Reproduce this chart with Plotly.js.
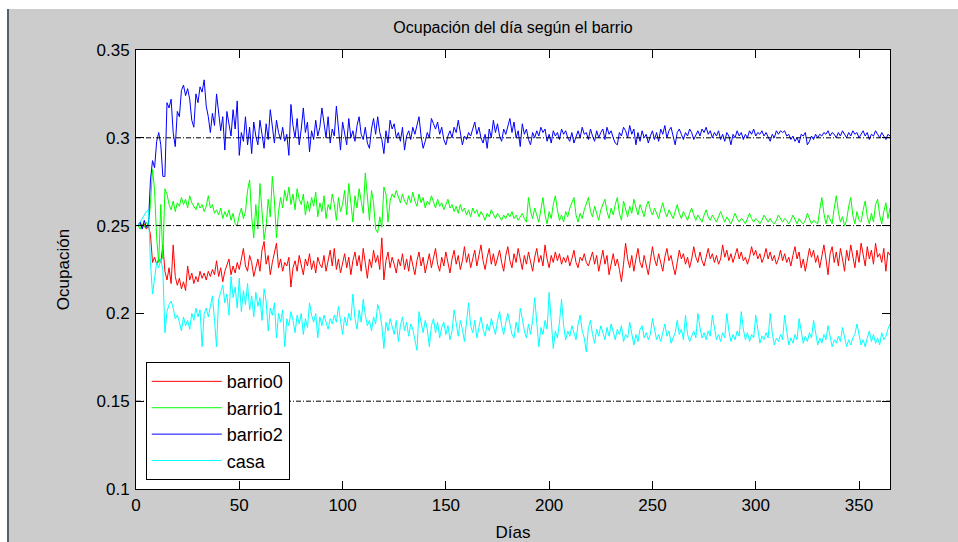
<!DOCTYPE html>
<html>
<head>
<meta charset="utf-8">
<script src="https://cdn.plot.ly/plotly-3.0.1.min.js"></script>
<style>
html,body{margin:0;padding:0;background:#ffffff;width:958px;height:542px;overflow:hidden;}
#frame{position:absolute;left:7px;top:9px;width:951px;height:533px;border-left:2px solid #56616e;box-sizing:border-box;background:#cccccc;}
#plot{position:absolute;left:0;top:0;width:949px;height:533px;}
</style>
</head>
<body>
<div id="frame"><div id="plot"></div></div>
<script>
// ---- data ----
const seriesNames = ['barrio0', 'barrio1', 'barrio2', 'casa'];
const xTickVals = [0, 50, 100, 150, 200, 250, 300, 350];
const yTickVals = [0.1, 0.15, 0.2, 0.25, 0.3, 0.35];
const yTickText = ['0.1', '0.15', '0.2', '0.25', '0.3', '0.35'];
const refLevels = [0.3, 0.25, 0.15];

const barrio0 = [
0.250,0.252,0.249,0.251,0.248,0.250,0.245,0.229,0.232,0.228,
0.231,0.229,0.239,0.224,0.219,0.226,0.217,0.239,0.221,0.216,
0.220,0.214,0.218,0.213,0.227,0.219,0.223,0.217,0.221,0.218,
0.224,0.220,0.223,0.219,0.224,0.221,0.225,0.222,0.230,0.221,
0.226,0.218,0.224,0.228,0.231,0.222,0.227,0.223,0.229,0.225,
0.232,0.237,0.227,0.224,0.233,0.229,0.221,0.226,0.231,0.224,
0.236,0.241,0.228,0.233,0.222,0.229,0.234,0.240,0.226,0.231,
0.224,0.229,0.227,0.232,0.215,0.226,0.230,0.224,0.233,0.228,
0.222,0.231,0.227,0.234,0.225,0.230,0.223,0.232,0.228,0.226,
0.233,0.224,0.230,0.236,0.227,0.237,0.225,0.231,0.223,0.229,
0.234,0.226,0.232,0.222,0.230,0.235,0.227,0.233,0.224,0.237,
0.228,0.220,0.231,0.226,0.236,0.229,0.233,0.225,0.243,0.219,
0.230,0.235,0.226,0.232,0.228,0.223,0.231,0.227,0.234,0.225,
0.231,0.224,0.233,0.228,0.222,0.230,0.235,0.227,0.232,0.223,
0.229,0.234,0.226,0.231,0.237,0.228,0.224,0.232,0.227,0.235,
0.229,0.223,0.231,0.236,0.228,0.233,0.225,0.230,0.238,0.229,
0.234,0.226,0.231,0.236,0.227,0.233,0.239,0.230,0.225,0.232,
0.237,0.228,0.234,0.227,0.231,0.236,0.229,0.224,0.233,0.238,
0.230,0.226,0.234,0.229,0.237,0.231,0.225,0.233,0.228,0.235,
0.230,0.224,0.232,0.237,0.229,0.233,0.227,0.239,0.231,0.226,
0.233,0.229,0.235,0.230,0.234,0.228,0.232,0.229,0.233,0.227,
0.231,0.236,0.229,0.226,0.232,0.230,0.234,0.229,0.227,0.231,
0.235,0.228,0.233,0.224,0.230,0.236,0.228,0.233,0.222,0.229,
0.234,0.227,0.231,0.225,0.218,0.228,0.240,0.231,0.226,0.233,
0.224,0.231,0.237,0.229,0.226,0.233,0.228,0.222,0.230,0.238,
0.231,0.227,0.234,0.229,0.224,0.232,0.237,0.230,0.233,0.227,
0.222,0.229,0.236,0.231,0.234,0.228,0.232,0.226,0.231,0.238,
0.232,0.229,0.235,0.230,0.227,0.232,0.237,0.231,0.234,0.229,
0.233,0.228,0.231,0.239,0.232,0.236,0.230,0.234,0.229,0.233,
0.237,0.231,0.235,0.230,0.232,0.228,0.232,0.238,0.233,0.236,
0.231,0.234,0.229,0.232,0.237,0.231,0.235,0.230,0.233,0.228,
0.231,0.236,0.230,0.234,0.229,0.232,0.227,0.233,0.238,0.231,
0.235,0.226,0.231,0.224,0.230,0.237,0.232,0.236,0.229,0.233,
0.226,0.232,0.239,0.231,0.222,0.234,0.238,0.229,0.235,0.227,
0.237,0.231,0.224,0.236,0.230,0.239,0.232,0.226,0.236,0.229,
0.240,0.233,0.227,0.238,0.231,0.236,0.228,0.240,0.232,0.234,
0.229,0.237,0.224,0.235,0.233
];

const barrio1 = [
0.250,0.248,0.251,0.249,0.252,0.250,0.262,0.282,0.270,0.243,
0.229,0.262,0.231,0.271,0.268,0.262,0.259,0.264,0.258,0.263,
0.261,0.266,0.262,0.265,0.260,0.267,0.263,0.261,0.259,0.263,
0.260,0.262,0.258,0.261,0.267,0.260,0.262,0.257,0.259,0.256,
0.260,0.254,0.258,0.255,0.259,0.253,0.257,0.251,0.250,0.256,
0.260,0.254,0.258,0.270,0.276,0.255,0.243,0.262,0.248,0.274,
0.260,0.242,0.250,0.265,0.255,0.278,0.264,0.243,0.258,0.266,
0.260,0.270,0.264,0.272,0.262,0.268,0.259,0.271,0.265,0.262,
0.268,0.256,0.264,0.258,0.266,0.261,0.269,0.255,0.263,0.258,
0.267,0.254,0.262,0.259,0.268,0.262,0.253,0.266,0.258,0.262,
0.270,0.256,0.274,0.263,0.252,0.267,0.260,0.271,0.264,0.257,
0.280,0.265,0.253,0.270,0.263,0.248,0.246,0.255,0.249,0.272,
0.268,0.252,0.264,0.268,0.266,0.270,0.267,0.263,0.268,0.264,
0.262,0.267,0.263,0.269,0.264,0.261,0.268,0.263,0.266,0.260,
0.264,0.262,0.267,0.263,0.260,0.265,0.261,0.263,0.259,0.262,
0.265,0.260,0.262,0.258,0.261,0.257,0.262,0.258,0.260,0.256,
0.259,0.255,0.260,0.257,0.259,0.255,0.258,0.256,0.253,0.257,
0.255,0.259,0.256,0.254,0.257,0.255,0.253,0.256,0.254,0.257,
0.255,0.258,0.254,0.256,0.253,0.255,0.257,0.254,0.252,0.266,
0.258,0.254,0.260,0.256,0.252,0.259,0.266,0.256,0.251,0.258,
0.254,0.262,0.267,0.259,0.253,0.256,0.252,0.258,0.255,0.260,
0.263,0.266,0.256,0.252,0.257,0.254,0.259,0.263,0.266,0.258,
0.255,0.261,0.257,0.253,0.259,0.262,0.265,0.258,0.254,0.260,
0.256,0.262,0.266,0.257,0.253,0.264,0.259,0.255,0.261,0.257,
0.265,0.260,0.256,0.262,0.258,0.255,0.261,0.264,0.259,0.256,
0.260,0.257,0.254,0.259,0.263,0.258,0.255,0.259,0.256,0.254,
0.258,0.262,0.257,0.254,0.258,0.255,0.253,0.257,0.260,0.256,
0.253,0.256,0.254,0.252,0.256,0.259,0.255,0.253,0.256,0.254,
0.252,0.255,0.258,0.255,0.252,0.255,0.253,0.251,0.254,0.257,
0.254,0.252,0.254,0.253,0.251,0.254,0.257,0.254,0.252,0.254,
0.253,0.251,0.253,0.256,0.254,0.252,0.254,0.252,0.251,0.253,
0.256,0.254,0.252,0.254,0.253,0.251,0.253,0.256,0.253,0.251,
0.254,0.252,0.251,0.253,0.257,0.254,0.251,0.253,0.252,0.251,
0.259,0.266,0.257,0.251,0.256,0.253,0.251,0.260,0.267,0.258,
0.252,0.255,0.250,0.253,0.261,0.266,0.256,0.251,0.258,0.253,
0.252,0.259,0.264,0.255,0.251,0.257,0.252,0.262,0.265,0.256,
0.251,0.258,0.263,0.254,0.260
];

const barrio2 = [
0.250,0.252,0.248,0.253,0.249,0.251,0.276,0.287,0.283,0.298,
0.303,0.296,0.278,0.278,0.320,0.317,0.322,0.303,0.295,0.315,
0.312,0.327,0.330,0.324,0.328,0.322,0.310,0.306,0.325,0.320,
0.329,0.326,0.333,0.318,0.312,0.303,0.314,0.307,0.325,0.314,
0.304,0.312,0.293,0.315,0.308,0.301,0.316,0.305,0.321,0.290,
0.303,0.298,0.312,0.296,0.306,0.291,0.309,0.301,0.296,0.310,
0.302,0.294,0.308,0.299,0.316,0.305,0.297,0.310,0.303,0.299,
0.306,0.298,0.302,0.290,0.319,0.307,0.300,0.311,0.296,0.305,
0.317,0.303,0.309,0.292,0.304,0.299,0.310,0.301,0.306,0.317,
0.308,0.300,0.312,0.297,0.305,0.301,0.318,0.306,0.293,0.309,
0.302,0.296,0.311,0.300,0.304,0.298,0.307,0.312,0.302,0.299,
0.306,0.297,0.294,0.305,0.311,0.302,0.312,0.303,0.299,0.291,
0.304,0.297,0.310,0.305,0.308,0.300,0.303,0.298,0.306,0.293,
0.301,0.304,0.299,0.306,0.302,0.307,0.312,0.301,0.294,0.298,
0.303,0.300,0.311,0.308,0.305,0.309,0.302,0.306,0.299,0.296,
0.301,0.304,0.300,0.306,0.303,0.310,0.304,0.296,0.301,0.299,
0.303,0.301,0.305,0.309,0.302,0.306,0.300,0.297,0.302,0.294,
0.305,0.300,0.310,0.303,0.308,0.301,0.298,0.305,0.302,0.307,
0.311,0.303,0.309,0.300,0.304,0.295,0.308,0.302,0.305,0.299,
0.296,0.303,0.300,0.304,0.301,0.306,0.303,0.305,0.298,0.302,
0.297,0.304,0.301,0.303,0.299,0.305,0.302,0.304,0.300,0.298,
0.303,0.297,0.301,0.304,0.300,0.306,0.302,0.303,0.299,0.305,
0.301,0.298,0.304,0.300,0.303,0.305,0.299,0.306,0.302,0.304,
0.300,0.297,0.296,0.303,0.301,0.306,0.304,0.300,0.307,0.302,
0.305,0.296,0.303,0.298,0.304,0.300,0.302,0.297,0.301,0.304,
0.299,0.303,0.298,0.305,0.302,0.307,0.300,0.304,0.306,0.301,
0.296,0.303,0.305,0.302,0.299,0.303,0.301,0.305,0.303,0.299,
0.302,0.304,0.301,0.305,0.303,0.306,0.302,0.304,0.300,0.303,
0.301,0.304,0.299,0.302,0.298,0.303,0.301,0.296,0.302,0.300,
0.304,0.301,0.303,0.299,0.302,0.300,0.304,0.302,0.305,0.301,
0.303,0.302,0.304,0.301,0.303,0.300,0.298,0.302,0.300,0.304,
0.302,0.304,0.303,0.304,0.301,0.302,0.299,0.301,0.298,0.300,
0.297,0.302,0.301,0.303,0.296,0.298,0.301,0.299,0.302,0.300,
0.302,0.301,0.303,0.302,0.304,0.301,0.303,0.302,0.300,0.303,
0.301,0.304,0.302,0.300,0.303,0.301,0.304,0.302,0.303,0.300,
0.302,0.304,0.301,0.303,0.299,0.302,0.301,0.304,0.302,0.300,
0.303,0.301,0.299,0.302,0.301
];

const casa = [
0.250,0.252,0.254,0.256,0.258,0.259,0.229,0.211,0.221,0.229,
0.226,0.231,0.225,0.189,0.201,0.205,0.207,0.203,0.197,0.199,
0.195,0.190,0.198,0.193,0.196,0.191,0.200,0.196,0.203,0.198,
0.202,0.181,0.200,0.203,0.198,0.205,0.210,0.196,0.181,0.208,
0.212,0.216,0.206,0.211,0.199,0.221,0.209,0.215,0.203,0.220,
0.201,0.213,0.205,0.217,0.202,0.210,0.198,0.212,0.204,0.209,
0.196,0.214,0.207,0.190,0.203,0.199,0.206,0.186,0.200,0.195,
0.202,0.181,0.197,0.193,0.201,0.196,0.189,0.199,0.194,0.200,
0.188,0.197,0.192,0.206,0.199,0.195,0.200,0.186,0.198,0.193,
0.199,0.195,0.191,0.197,0.194,0.199,0.195,0.204,0.196,0.188,
0.198,0.193,0.200,0.196,0.211,0.197,0.191,0.202,0.195,0.208,
0.199,0.193,0.196,0.190,0.198,0.194,0.205,0.201,0.193,0.180,
0.195,0.190,0.197,0.192,0.188,0.196,0.184,0.193,0.198,0.190,
0.195,0.187,0.194,0.191,0.184,0.179,0.201,0.194,0.189,0.196,
0.191,0.181,0.193,0.197,0.189,0.195,0.186,0.192,0.195,0.188,
0.193,0.185,0.190,0.202,0.194,0.187,0.196,0.191,0.184,0.195,
0.206,0.193,0.189,0.196,0.186,0.192,0.198,0.191,0.187,0.194,
0.190,0.197,0.192,0.188,0.196,0.201,0.193,0.188,0.195,0.200,
0.194,0.188,0.186,0.195,0.189,0.203,0.197,0.190,0.186,0.194,
0.188,0.196,0.209,0.193,0.181,0.192,0.188,0.196,0.191,0.212,
0.194,0.180,0.190,0.186,0.195,0.208,0.193,0.185,0.190,0.187,
0.193,0.189,0.185,0.194,0.199,0.190,0.186,0.178,0.192,0.196,
0.188,0.183,0.191,0.187,0.193,0.189,0.185,0.192,0.187,0.194,
0.189,0.185,0.191,0.188,0.193,0.184,0.188,0.186,0.195,0.189,
0.182,0.188,0.184,0.191,0.193,0.186,0.189,0.185,0.188,0.197,
0.190,0.185,0.188,0.184,0.189,0.194,0.187,0.190,0.183,0.186,
0.189,0.196,0.188,0.191,0.185,0.199,0.188,0.184,0.187,0.190,
0.186,0.200,0.192,0.186,0.189,0.185,0.190,0.187,0.199,0.191,
0.185,0.188,0.184,0.189,0.186,0.200,0.190,0.184,0.188,0.185,
0.190,0.187,0.201,0.191,0.185,0.189,0.184,0.188,0.186,0.199,
0.190,0.183,0.187,0.185,0.189,0.186,0.200,0.189,0.182,0.186,
0.184,0.188,0.185,0.199,0.190,0.182,0.186,0.183,0.188,0.185,
0.197,0.189,0.183,0.187,0.184,0.189,0.186,0.196,0.188,0.182,
0.186,0.183,0.188,0.185,0.193,0.187,0.181,0.185,0.183,0.187,
0.184,0.192,0.186,0.181,0.185,0.182,0.186,0.188,0.194,0.187,
0.182,0.185,0.181,0.186,0.190,0.184,0.188,0.183,0.186,0.182,
0.189,0.185,0.187,0.191,0.194
];

// day index (1..365) for each sample
const days = barrio0.map((_, i) => i + 1);

const colors = ['#ff0000', '#00ff00', '#0000ff', '#00ffff'];
const allSeries = [barrio0, barrio1, barrio2, casa];

const traces = allSeries.map((ys, k) => ({
  type: 'scatter', mode: 'lines',
  x: days, y: ys, name: seriesNames[k],
  line: {color: colors[k], width: 1}
}));

const shapes = refLevels.map(v => ({
  type: 'line', xref: 'paper', x0: 0, x1: 1, yref: 'y', y0: v, y1: v,
  line: {color: '#000000', width: 1, dash: '5px,2px,1px,2px'},
  layer: 'above'
}));

const FONT = 'Liberation Sans, Arial, Helvetica, sans-serif';

const layout = {
  width: 949, height: 533,
  paper_bgcolor: '#cccccc', plot_bgcolor: '#ffffff',
  margin: {l: 127, r: 68, t: 41, b: 53},
  font: {family: FONT, size: 17, color: '#000000'},
  showlegend: true,
  title: {text: 'Ocupación del día según el barrio', font: {family: FONT, size: 16, color: '#000'},
          xref: 'paper', x: 0.5, xanchor: 'center', yref: 'container', y: 1 - 18/533, yanchor: 'middle'},
  xaxis: {
    range: [0, 365], tickmode: 'array', tickvals: xTickVals,
    ticks: 'inside', ticklen: 8, tickwidth: 1, tickcolor: '#000',
    showline: true, linecolor: '#000', linewidth: 1, mirror: 'ticks',
    showgrid: false, zeroline: false, ticklabelstandoff: 1,
    tickfont: {family: FONT, size: 17, color: '#000'},
    title: {text: 'Días', font: {family: FONT, size: 17, color: '#000'}, standoff: 12}
  },
  yaxis: {
    range: [0.1, 0.35], tickmode: 'array', tickvals: yTickVals, ticktext: yTickText,
    ticks: 'inside', ticklen: 8, tickwidth: 1, tickcolor: '#000',
    showline: true, linecolor: '#000', linewidth: 1, mirror: 'ticks',
    showgrid: false, zeroline: false, ticklabelstandoff: 2,
    tickfont: {family: FONT, size: 17, color: '#000'},
    title: {text: 'Ocupación', font: {family: FONT, size: 17, color: '#000'}, standoff: 22}
  },
  legend: {
    x: 0.013, y: 0.289, xanchor: 'left', yanchor: 'top',
    bgcolor: '#ffffff', bordercolor: '#000000', borderwidth: 1,
    font: {family: FONT, size: 18, color: '#000'},
    itemwidth: 70
  },
  shapes: shapes
};

Plotly.newPlot('plot', traces, layout, {displayModeBar: false, staticPlot: true});
</script>
</body>
</html>
